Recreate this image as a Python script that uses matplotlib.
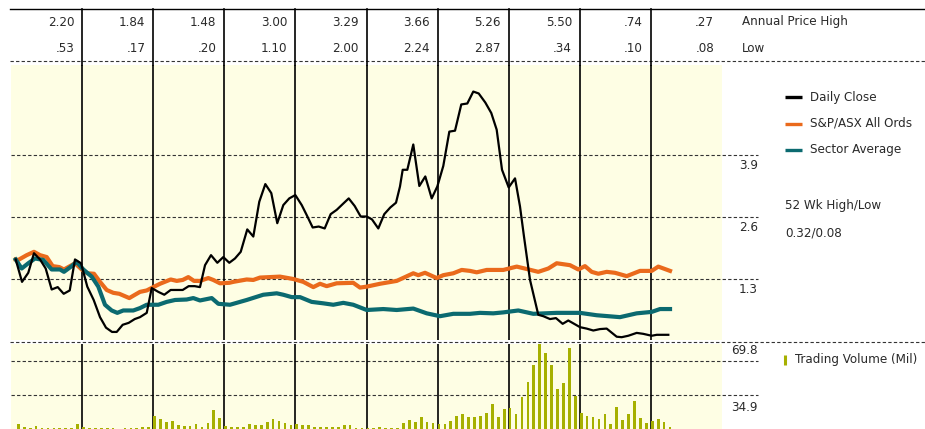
#Stock price chart: daily close vs index and sector, with annual highs/lows and monthly volume

import matplotlib
matplotlib.use('Agg')
import matplotlib.pyplot as plt
import matplotlib.transforms as mtransforms

plt.rcParams['font.family'] = ['DejaVu Sans']
plt.rcParams['font.stretch'] = 'condensed'

#Annual price high / low for each of the ten years shown in the header.
annual_high = ['2.20', '1.84', '1.48', '3.00', '3.29', '3.66', '5.26', '5.50', '.74', '.27']
annual_low = ['.53', '.17', '.20', '1.10', '2.00', '2.24', '2.87', '.34', '.10', '.08']

#Time is measured in years from the left edge of the chart.
close_t = [0.066, 0.155, 0.243, 0.323, 0.408, 0.488, 0.572, 0.657, 0.741, 0.826,
           0.900, 0.985, 1.073, 1.163, 1.252, 1.336, 1.421, 1.487, 1.571, 1.655,
           1.740, 1.814, 1.909, 1.979, 2.072, 2.156, 2.246, 2.331, 2.415, 2.499,
           2.584, 2.658, 2.729, 2.813, 2.902, 2.986, 3.070, 3.150, 3.231, 3.323,
           3.408, 3.492, 3.577, 3.661, 3.745, 3.830, 3.914, 3.999, 4.089, 4.159,
           4.243, 4.328, 4.412, 4.496, 4.581, 4.665, 4.750, 4.834, 4.918, 5.003,
           5.077, 5.166, 5.250, 5.335, 5.415, 5.471, 5.509, 5.574, 5.658, 5.743,
           5.827, 5.917, 5.996, 6.080, 6.165, 6.245, 6.333, 6.418, 6.502, 6.578,
           6.671, 6.755, 6.831, 6.906, 7.000, 7.089, 7.159, 7.215, 7.300, 7.416,
           7.487, 7.581, 7.665, 7.759, 7.838, 7.909, 8.003, 8.097, 8.190, 8.284,
           8.378, 8.519, 8.589, 8.682, 8.800, 8.893, 9.011, 9.082, 9.245]
close_price = [1.71, 1.24, 1.43, 1.84, 1.71, 1.52, 1.08, 1.13, 0.99, 1.06,
               1.71, 1.63, 1.14, 0.86, 0.50, 0.28, 0.19, 0.19, 0.34, 0.38,
               0.46, 0.50, 0.59, 1.11, 1.03, 0.97, 1.07, 1.07, 1.07, 1.15,
               1.15, 1.13, 1.59, 1.80, 1.64, 1.76, 1.64, 1.73, 1.87, 2.34,
               2.19, 2.92, 3.29, 3.10, 2.47, 2.85, 2.99, 3.06, 2.85, 2.64,
               2.38, 2.40, 2.36, 2.66, 2.75, 2.87, 2.99, 2.83, 2.61, 2.61,
               2.55, 2.36, 2.66, 2.80, 2.90, 3.24, 3.59, 3.59, 4.12, 3.25,
               3.45, 2.99, 3.24, 3.67, 4.39, 4.41, 4.96, 4.98, 5.23, 5.19,
               5.00, 4.78, 4.43, 3.59, 3.22, 3.41, 2.82, 2.19, 1.28, 0.55,
               0.52, 0.46, 0.48, 0.36, 0.43, 0.37, 0.29, 0.26, 0.22, 0.25,
               0.26, 0.09, 0.08, 0.11, 0.17, 0.15, 0.11, 0.13, 0.13]

index_t = [0.066, 0.103, 0.221, 0.323, 0.408, 0.502, 0.586, 0.679, 0.745, 0.830,
           0.900, 0.994, 1.073, 1.167, 1.252, 1.346, 1.439, 1.523, 1.664, 1.744,
           1.814, 1.909, 2.001, 2.096, 2.246, 2.331, 2.415, 2.494, 2.574, 2.658,
           2.775, 2.845, 2.939, 3.070, 3.127, 3.315, 3.408, 3.502, 3.783, 3.970,
           4.111, 4.252, 4.346, 4.440, 4.581, 4.814, 4.909, 5.003, 5.190, 5.425,
           5.658, 5.728, 5.823, 5.987, 6.080, 6.221, 6.339, 6.456, 6.550, 6.691,
           6.924, 7.113, 7.253, 7.416, 7.557, 7.675, 7.862, 7.979, 8.073, 8.167,
           8.260, 8.378, 8.495, 8.660, 8.847, 9.011, 9.104, 9.269]
index_price = [1.71, 1.70, 1.80, 1.87, 1.80, 1.76, 1.57, 1.55, 1.50, 1.57,
               1.63, 1.50, 1.42, 1.41, 1.24, 1.07, 1.01, 0.99, 0.90, 0.97,
               1.03, 1.06, 1.13, 1.20, 1.29, 1.26, 1.28, 1.34, 1.26, 1.26,
               1.32, 1.28, 1.21, 1.22, 1.24, 1.29, 1.28, 1.33, 1.35, 1.30,
               1.24, 1.13, 1.20, 1.15, 1.21, 1.22, 1.12, 1.14, 1.20, 1.26,
               1.42, 1.38, 1.43, 1.32, 1.38, 1.42, 1.49, 1.47, 1.44, 1.49,
               1.49, 1.56, 1.51, 1.45, 1.52, 1.63, 1.59, 1.50, 1.57, 1.45,
               1.41, 1.45, 1.43, 1.36, 1.47, 1.47, 1.56, 1.47]

sector_t = [0.066, 0.150, 0.243, 0.338, 0.454, 0.572, 0.689, 0.745, 0.854, 0.924,
            1.017, 1.135, 1.228, 1.322, 1.416, 1.495, 1.579, 1.720, 1.814, 1.909,
            2.072, 2.190, 2.307, 2.471, 2.564, 2.658, 2.823, 2.916, 3.080, 3.315,
            3.548, 3.737, 3.830, 3.948, 4.065, 4.229, 4.392, 4.533, 4.674, 4.814,
            5.003, 5.236, 5.425, 5.658, 5.847, 6.034, 6.221, 6.456, 6.596, 6.783,
            6.924, 7.135, 7.346, 7.675, 8.003, 8.238, 8.565, 8.800, 9.011, 9.128,
            9.269]
sector_price = [1.71, 1.52, 1.63, 1.73, 1.70, 1.50, 1.50, 1.45, 1.57, 1.66,
                1.50, 1.35, 1.14, 0.76, 0.64, 0.59, 0.64, 0.64, 0.69, 0.76,
                0.76, 0.82, 0.86, 0.87, 0.90, 0.85, 0.90, 0.78, 0.76, 0.86,
                0.97, 1.00, 0.97, 0.92, 0.92, 0.82, 0.79, 0.76, 0.80, 0.76,
                0.65, 0.67, 0.65, 0.68, 0.58, 0.52, 0.57, 0.57, 0.59, 0.58,
                0.60, 0.64, 0.57, 0.59, 0.59, 0.54, 0.50, 0.58, 0.61, 0.67,
                0.67]

#Monthly trading volume in millions, first bar is the first month shown.
volume_start = 0.103
volume = [5.1, 1.7, 1.3, 3.1, 1.3, 1.3, 1.3, 1.3, 1.3, 1.3, 5.1, 2.1, 1.3, 1.3, 1.3,
          1.3, 0.7, 0.2, 0.7, 0.7, 0.7, 2.4, 2.4, 13.7, 10.3, 7.2, 8.2, 4.1, 3.4, 2.8,
          5.1, 2.4, 6.5, 19.5, 11.3, 3.1, 1.7, 1.7, 2.4, 5.1, 4.1, 4.1, 7.2, 10.3, 8.5,
          6.5, 4.4, 5.1, 4.1, 4.1, 2.1, 2.1, 2.1, 2.4, 2.4,
          4.1, 4.1, 1.3, 1.3, 1.3, 0.7, 2.4, 1.0, 1.0, 1.0, 6.5, 9.2, 7.5, 12.3, 7.5,
          6.5, 5.4, 5.4, 7.9, 13.3, 15.4, 12.6, 12.6, 13.3, 16.7, 25.4, 12.6, 20.8, 21.6,
          15.7, 32.8, 48.2, 66.0, 87.3, 78.3, 65.7, 41.4, 46.9, 83.5, 33.9, 16.7, 13.3,
          12.0, 10.0, 15.1, 4.8, 22.6, 9.2, 15.1, 28.7, 11.3, 6.5, 7.9, 10.0, 7.5, 2.1]
volume_t = [volume_start + k / 12 for k in range(len(volume))]

price_ticks = [1.3, 2.6, 3.9]
volume_ticks = [34.9, 69.8]

black = '#000000'
orange = '#ea6a1c'
teal = '#0b6a70'
olive = '#a6b000'
cream = '#fefee4'
text_col = '#2a2a2a'
dash = (0, (3, 2))
fs = 9.5

W, H = 925, 429
fig = plt.figure(figsize=(W / 100, H / 100), dpi=100)

def box(x0, y0, x1, y1):
    #pixel box (top-left origin) -> figure fraction
    return [x0 / W, 1 - y1 / H, (x1 - x0) / W, (y1 - y0) / H]

#price panel
ax = fig.add_axes(box(11, 65, 722, 340))
ax.set_facecolor(cream)
ax.set_xlim(0, 10)
ax.set_ylim(0.021, 5.787)
for v in price_ticks:
    ax.axhline(v, xmin=0, xmax=1.0506, color='#333333', lw=0.8, ls=dash, clip_on=False, zorder=1)
for yr in range(1, 10):
    ax.axvline(yr, color=black, lw=1.2, zorder=1.5)
ax.plot(index_t, index_price, color=orange, lw=3.0, zorder=3, solid_joinstyle='round')
ax.plot(sector_t, sector_price, color=teal, lw=3.0, zorder=3, solid_joinstyle='round')
ax.plot(close_t, close_price, color=black, lw=1.6, zorder=4)
for s in ax.spines.values():
    s.set_visible(False)
ax.set_xticks([])
ax.set_yticks([])
for v in price_ticks:
    ax.annotate('%.1f' % v, xy=(1.0506, v), xycoords=ax.get_yaxis_transform(),
                xytext=(0, -3), textcoords='offset points', ha='right', va='top',
                fontsize=fs, color=text_col, annotation_clip=False)

#volume panel
vax = fig.add_axes(box(11, 344, 722, 429))
vax.set_facecolor(cream)
vax.set_xlim(0, 10)
vax.set_ylim(0, 87.5)
for v in volume_ticks:
    vax.axhline(v, xmin=0, xmax=1.0506, color='#333333', lw=0.8, ls=dash, clip_on=False, zorder=1)
for yr in range(1, 10):
    vax.axvline(yr, color=black, lw=1.2, zorder=1.5)
vax.bar(volume_t, volume, width=0.038, color=olive, zorder=3)
for s in vax.spines.values():
    s.set_visible(False)
vax.set_xticks([])
vax.set_yticks([])
vax.annotate('69.8', xy=(1.0506, 69.8), xycoords=vax.get_yaxis_transform(),
             xytext=(0, 3), textcoords='offset points', ha='right', va='bottom',
             fontsize=fs, color=text_col, annotation_clip=False)
vax.annotate('34.9', xy=(1.0506, 34.9), xycoords=vax.get_yaxis_transform(),
             xytext=(0, -4), textcoords='offset points', ha='right', va='top',
             fontsize=fs, color=text_col, annotation_clip=False)

#overlay for header, frame lines and legend (pixel coordinates)
top = fig.add_axes([0, 0, 1, 1], facecolor='none', zorder=5)
top.set_xlim(0, W)
top.set_ylim(H, 0)
top.axis('off')
top.plot([10, W], [9, 9], color=black, lw=1.0)
top.plot([10, W], [61, 61], color='#333333', lw=0.8, ls=dash)
top.plot([10, W], [341.5, 341.5], color='#333333', lw=0.8, ls=dash)

years = mtransforms.blended_transform_factory(ax.transData, top.transData)
for yr in range(1, 10):
    top.plot([yr, yr], [9, 65], color=black, lw=1.2, transform=years)
for i in range(10):
    top.text(i + 0.89, 22, annual_high[i], transform=years, ha='right', va='center',
             fontsize=fs, color=text_col)
    top.text(i + 0.89, 48, annual_low[i], transform=years, ha='right', va='center',
             fontsize=fs, color=text_col)
top.text(742, 22, 'Annual Price High', ha='left', va='center', fontsize=fs, color=text_col)
top.text(742, 48, 'Low', ha='left', va='center', fontsize=fs, color=text_col)

#legend
legend_items = [('Daily Close', black), ('S&P/ASX All Ords', orange), ('Sector Average', teal)]
for k, (name, col) in enumerate(legend_items):
    y = 97 + k * 26.5
    top.plot([785, 802], [y, y], color=col, lw=2.4, solid_capstyle='butt')
    top.text(810, y, name, ha='left', va='center', fontsize=fs, color=text_col)
top.text(785, 206, '52 Wk High/Low', ha='left', va='center', fontsize=fs, color=text_col)
top.text(785, 233, '0.32/0.08', ha='left', va='center', fontsize=fs, color=text_col)
top.plot([785, 785], [355, 365], color=olive, lw=2.2, solid_capstyle='butt')
top.text(795, 360, 'Trading Volume (Mil)', ha='left', va='center', fontsize=fs, color=text_col)

fig.savefig('out.png', dpi=100)
